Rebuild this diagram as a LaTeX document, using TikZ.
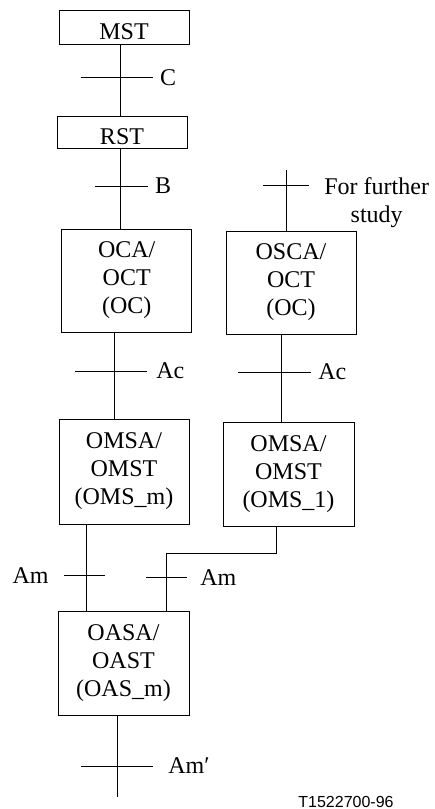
\documentclass[tikz,border=0pt]{standalone}
\usepackage{fontspec}
\setmainfont{Liberation Serif}
\newfontfamily\figsans{Liberation Sans}
\usetikzlibrary{positioning,calc}
\tikzset{
	unitbox/.style={
		rectangle,
		draw=black, line width=0.8pt,
		minimum width=130pt,
		inner sep=0pt,
		align=center,
		font=\fontsize{24}{28}\selectfont,
		execute at begin node={\rule{0pt}{25pt}}},
	link/.style={draw, line width=0.8pt},
	crossbar/.style={draw, line width=0.8pt},
	lbl/.style={font=\fontsize{24}{28}\selectfont, inner sep=0pt},
}

\begin{document}
\begin{tikzpicture}
[x=1pt, y=-1pt]
\useasboundingbox (0,0) rectangle (435,809);
% managed units
\node[unitbox, minimum height=34pt] (mst) at (124,27) {MST};
\node[unitbox, minimum height=32pt] (rst) at (122,132) {RST};
\node[unitbox, minimum height=103pt] (oca) at (126.7,280.5) {OCA/\\OCT\\(OC)};
\node[unitbox, minimum height=103pt] (osca) at (291,282.5) {OSCA/\\OCT\\(OC)};
\node[unitbox, minimum height=105pt] (omsm) at (124,471.5) {OMSA/\\OMST\\(OMS\_m)};
\node[unitbox, minimum height=104pt, minimum width=131pt] (oms1) at (288.5,474) {OMSA/\\OMST\\(OMS\_1)};
\node[unitbox, minimum height=104pt, minimum width=131pt] (oas) at (123.5,663) {OASA/\\OAST\\(OAS\_m)};
\coordinate (ffsin) at (286,170);
\coordinate (amout) at (117,797);
% links
\draw[link] ([xshift=-3.3pt]mst.south) -- coordinate[pos=0.47] (cref) ([xshift=-1.3pt]rst.north);
\draw[link] ([xshift=-1.3pt]rst.south) -- coordinate[pos=0.47] (bref) ([xshift=-6pt]oca.north);
\draw[link] (ffsin) -- coordinate[pos=0.26] (ffs) ([xshift=-5pt]osca.north);
\draw[link] ([xshift=-12.7pt]oca.south) -- coordinate[pos=0.45] (acl) ([xshift=-10pt]omsm.north);
\draw[link] ([xshift=-10pt]osca.south) -- coordinate[pos=0.43] (acr) ([xshift=-7.5pt]oms1.north);
\draw[link] ([xshift=-38pt]omsm.south) -- coordinate[pos=0.59] (aml) ([xshift=-37.5pt]oas.north);
\draw[link] ([xshift=-12.5pt]oms1.south) -- ++(0,27) -| coordinate[pos=0.71] (amr) ([xshift=42.5pt]oas.north);
\draw[link] ([xshift=-6.5pt]oas.south) -- coordinate[pos=0.62] (amp) (amout);
% interface ticks
\draw[crossbar] ([xshift=-40pt]cref) -- ([xshift=32pt]cref) node[lbl, right=7pt] {C};
\draw[crossbar] ([xshift=-26pt]bref) -- ([xshift=27pt]bref) node[lbl, right=7pt] {B};
\draw[crossbar] ([xshift=-23pt]ffs) -- ([xshift=23pt]ffs)
	node[lbl, align=center, anchor=north west, xshift=15pt, yshift=8.4pt] {For further\\study};
\draw[crossbar] ([xshift=-39pt]acl) -- ([xshift=33pt]acl) node[lbl, right=9pt] {Ac};
\draw[crossbar] ([xshift=-43pt]acr) -- ([xshift=30pt]acr) node[lbl, right=7pt] {Ac};
\draw[crossbar] ([xshift=19pt]aml) -- ([xshift=-22pt]aml) node[lbl, left=15pt] {Am};
\draw[crossbar] ([xshift=-20pt]amr) -- ([xshift=21pt]amr) node[lbl, right=13pt] {Am};
\draw[crossbar] ([xshift=-36pt]amp) -- ([xshift=36pt]amp) node[lbl, right=15pt] {Am′};
\node[font=\figsans\fontsize{16}{19}\selectfont, inner sep=0pt] (fignum) at (346,801.5) {T1522700-96};
\end{tikzpicture}
\end{document}
